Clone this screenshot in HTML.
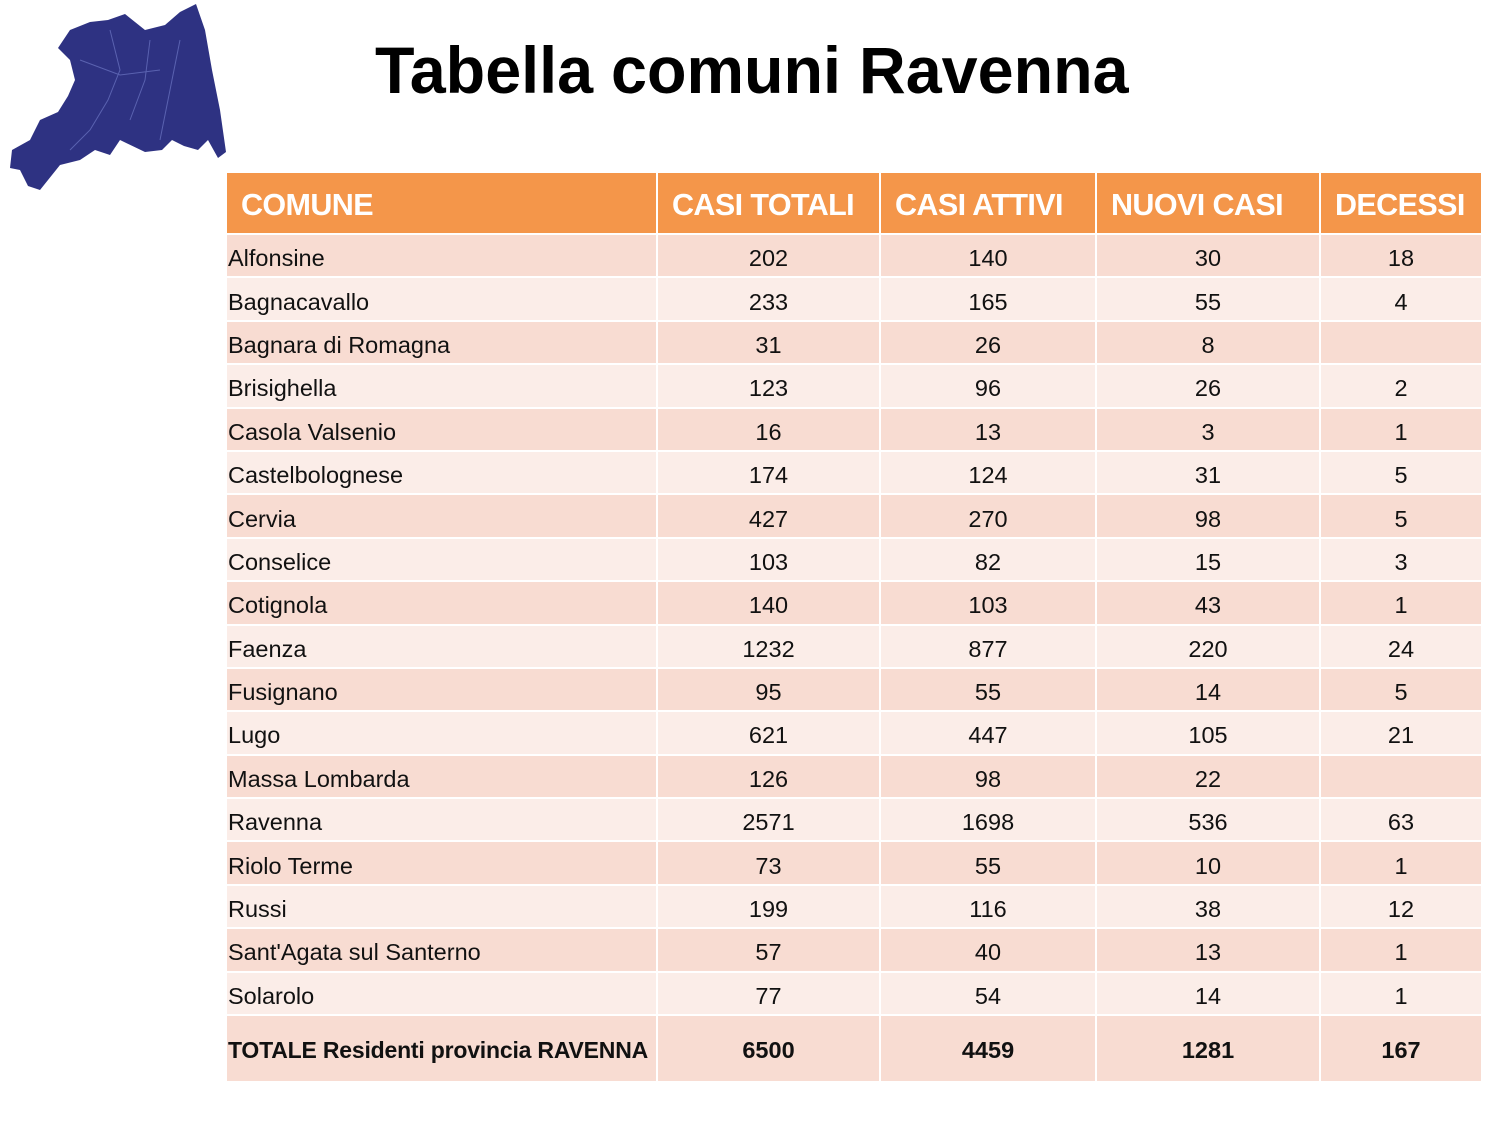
<!DOCTYPE html>
<html><head><meta charset="utf-8"><style>
body{margin:0;width:1500px;height:1125px;background:#fff;position:relative;overflow:hidden;font-family:"Liberation Sans",sans-serif;}
h1{position:absolute;left:375px;top:32px;margin:0;font-size:66px;font-weight:bold;letter-spacing:0;transform:scaleX(0.98);transform-origin:left top;color:#000;white-space:nowrap}
table{position:absolute;left:225px;top:171px;border-collapse:separate;border-spacing:2px;table-layout:fixed}
td,th{padding:0;font-size:23.5px;color:#111;text-align:center;overflow:hidden;white-space:nowrap}
th{background:#f4964a;color:#fff;height:60px;font-size:30.5px;font-weight:bold;text-align:left;padding-left:14px;letter-spacing:-0.6px;padding-top:4px;box-sizing:border-box}
td:first-child{text-align:left;padding-left:1px}
tr.d td{background:#f8dcd2;height:41.4px;padding-top:6px;box-sizing:border-box}
tr.l td{background:#fbede8;height:41.4px;padding-top:6px;box-sizing:border-box}
tr.t td{background:#f8dcd2;height:65px;font-weight:bold;padding-top:4px;box-sizing:border-box}
tr.t td:first-child{font-size:23px;letter-spacing:-0.2px}
</style></head><body>
<svg style="position:absolute;left:0;top:0" width="240" height="200" viewBox="0 0 240 200">
<path d="M196,4 L205,30 L212,70 L220,110 L226,152 L218,158 L208,140 L198,150 L184,146 L172,140 L162,150 L145,152 L120,140 L110,155 L95,150 L80,160 L60,165 L40,190 L28,186 L20,170 L10,168 L12,150 L30,140 L40,120 L58,112 L68,96 L75,80 L70,60 L58,48 L70,30 L90,22 L108,20 L125,14 L145,30 L165,25 L180,12 Z" fill="#2e3282"/>
<path d="M110,30 L120,70 L108,100 L90,130 L70,150 M150,40 L145,80 L130,120 M180,40 L170,90 L160,140 M80,60 L120,75 L160,70" stroke="#5a62b0" stroke-width="1" fill="none"/>
</svg>
<h1>Tabella comuni Ravenna</h1>
<table>
<colgroup><col style="width:429px"><col style="width:221px"><col style="width:214px"><col style="width:222px"><col style="width:160px"></colgroup>
<tr><th>COMUNE</th><th>CASI TOTALI</th><th>CASI ATTIVI</th><th>NUOVI CASI</th><th>DECESSI</th></tr>
<tr class="d"><td>Alfonsine</td><td>202</td><td>140</td><td>30</td><td>18</td></tr>
<tr class="l"><td>Bagnacavallo</td><td>233</td><td>165</td><td>55</td><td>4</td></tr>
<tr class="d"><td>Bagnara di Romagna</td><td>31</td><td>26</td><td>8</td><td></td></tr>
<tr class="l"><td>Brisighella</td><td>123</td><td>96</td><td>26</td><td>2</td></tr>
<tr class="d"><td>Casola Valsenio</td><td>16</td><td>13</td><td>3</td><td>1</td></tr>
<tr class="l"><td>Castelbolognese</td><td>174</td><td>124</td><td>31</td><td>5</td></tr>
<tr class="d"><td>Cervia</td><td>427</td><td>270</td><td>98</td><td>5</td></tr>
<tr class="l"><td>Conselice</td><td>103</td><td>82</td><td>15</td><td>3</td></tr>
<tr class="d"><td>Cotignola</td><td>140</td><td>103</td><td>43</td><td>1</td></tr>
<tr class="l"><td>Faenza</td><td>1232</td><td>877</td><td>220</td><td>24</td></tr>
<tr class="d"><td>Fusignano</td><td>95</td><td>55</td><td>14</td><td>5</td></tr>
<tr class="l"><td>Lugo</td><td>621</td><td>447</td><td>105</td><td>21</td></tr>
<tr class="d"><td>Massa Lombarda</td><td>126</td><td>98</td><td>22</td><td></td></tr>
<tr class="l"><td>Ravenna</td><td>2571</td><td>1698</td><td>536</td><td>63</td></tr>
<tr class="d"><td>Riolo Terme</td><td>73</td><td>55</td><td>10</td><td>1</td></tr>
<tr class="l"><td>Russi</td><td>199</td><td>116</td><td>38</td><td>12</td></tr>
<tr class="d"><td>Sant'Agata sul Santerno</td><td>57</td><td>40</td><td>13</td><td>1</td></tr>
<tr class="l"><td>Solarolo</td><td>77</td><td>54</td><td>14</td><td>1</td></tr>
<tr class="t"><td>TOTALE Residenti provincia RAVENNA</td><td>6500</td><td>4459</td><td>1281</td><td>167</td></tr>
</table>
</body></html>
